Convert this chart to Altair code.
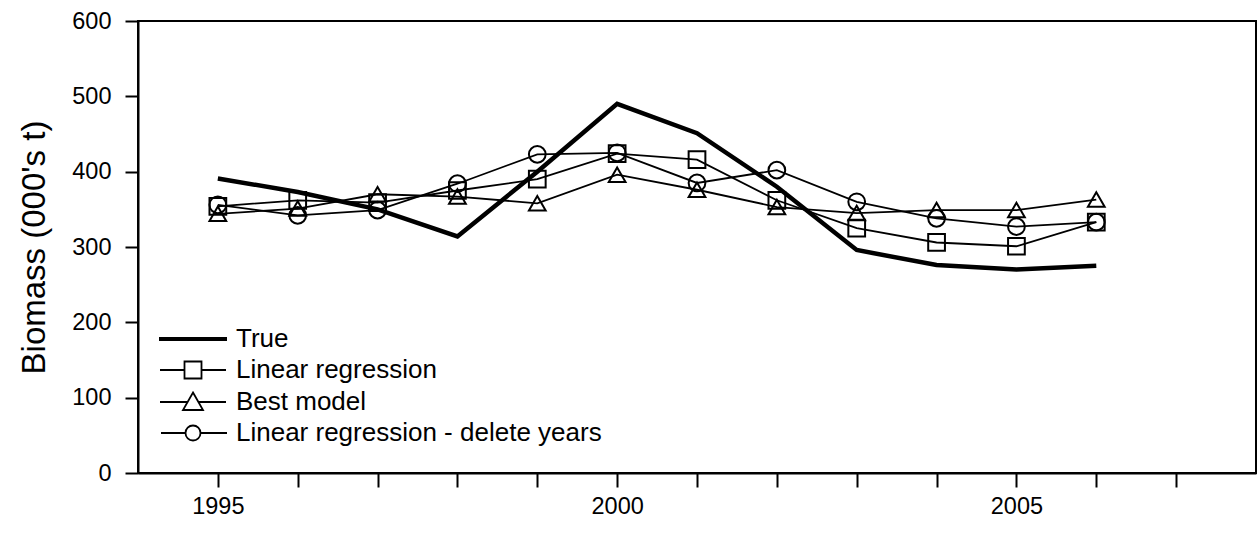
import altair as alt
import pandas as pd

years = [1995, 1996, 1997, 1998, 1999, 2000, 2001, 2002, 2003, 2004, 2005, 2006]
true_vals = [391, 373, 350, 314, 400, 490, 451, 380, 296, 276, 270, 275]
lin_reg = [354, 362, 359, 375, 390, 424, 416, 362, 325, 306, 301, 333]
best_model = [344, 351, 370, 367, 358, 396, 376, 353, 345, 349, 349, 363]
lin_reg_del = [356, 342, 349, 384, 423, 425, 385, 402, 360, 338, 327, 333]

series_names = ["True", "Linear regression", "Best model", "Linear regression - delete years"]
model_names = series_names[1:]
model_shapes = ["square", "triangle-up", "circle"]
legend_paths = [
    "M-3.4,-0.1H3.4M-3.4,0H3.4M-3.4,0.1H3.4",
    "M-3.3,0H-0.85M0.85,0H3.3M-0.85,-0.85H0.85V0.85H-0.85Z",
    "M-3.3,0H-0.55M0.55,0H3.3M0,-0.95L1,0.8H-1Z",
    "M-3.2,0H-0.75M0.75,0H3.4M-0.75,0A0.75,0.75 0 1,0 0.75,0A0.75,0.75 0 1,0 -0.75,0Z",
]

rows = []
for name, vals in zip(series_names, [true_vals, lin_reg, best_model, lin_reg_del]):
    for yr, v in zip(years, vals):
        rows.append({"year": yr, "biomass": v, "series": name})
df = pd.DataFrame(rows)

FONT = "Liberation Sans"

x_enc = alt.X(
    "year:Q",
    scale=alt.Scale(domain=[1994, 2008], nice=False, zero=False),
    axis=alt.Axis(
        title=None,
        values=list(range(1995, 2008)),
        labelExpr="datum.value % 5 == 0 ? format(datum.value, 'd') : ''",
        grid=False,
        tickSize=14,
        tickWidth=2,
        domainWidth=2,
        labelFontSize=23.5,
        labelPadding=7,
        labelOverlap=False,
    ),
)
y_enc = alt.Y(
    "biomass:Q",
    scale=alt.Scale(domain=[0, 600], nice=False),
    axis=alt.Axis(
        title="Biomass (000's t)",
        values=[0, 100, 200, 300, 400, 500, 600],
        grid=False,
        tickSize=13,
        tickWidth=2,
        domainWidth=2,
        labelFontSize=23.5,
        labelPadding=14,
        titleFontSize=33,
        titleFontWeight="normal",
        titlePadding=20,
    ),
)

base = alt.Chart(df)

model_lines = base.transform_filter(
    alt.FieldOneOfPredicate(field="series", oneOf=model_names)
).mark_line(color="black", strokeWidth=1.8).encode(
    x=x_enc, y=y_enc, detail="series:N"
)

true_line = base.transform_filter(
    alt.FieldEqualPredicate(field="series", equal="True")
).mark_line(color="black", strokeWidth=4.5).encode(x=x_enc, y=y_enc)

markers = base.transform_filter(
    alt.FieldOneOfPredicate(field="series", oneOf=model_names)
).mark_point(color="black", filled=False, strokeWidth=2, size=280, opacity=1).encode(
    x=x_enc,
    y=y_enc,
    shape=alt.Shape("series:N", scale=alt.Scale(domain=model_names, range=model_shapes), legend=None),
)

legend_layer = base.mark_point(color="black", filled=False, strokeWidth=1.8, opacity=0).encode(
    x=x_enc,
    y=y_enc,
    shape=alt.Shape(
        "series:N",
        scale=alt.Scale(domain=series_names, range=legend_paths),
        sort=series_names,
        legend=alt.Legend(
            title=None,
            orient="none",
            legendX=42,
            legendY=305,
            padding=0,
            symbolSize=400,
            symbolStrokeWidth=1.8,
            symbolStrokeColor="black",
            symbolOpacity=1,
            labelFontSize=26,
            labelFont=FONT,
            labelColor="black",
            labelOffset=30,
            labelLimit=800,
            rowPadding=5,
        ),
    ),
)

chart = alt.layer(model_lines, true_line, markers, legend_layer).resolve_scale(
    shape="independent"
).properties(
    width=1118,
    height=452,
    padding={"left": 138, "top": 21, "right": 1, "bottom": 63},
    autosize=alt.AutoSizeParams(type="none"),
).configure_view(
    stroke="black", strokeWidth=2
).configure_axis(
    labelFont=FONT, titleFont=FONT, labelColor="black", titleColor="black",
    tickColor="black", domainColor="black",
)

chart.save("out.html", embed_options={"renderer": "svg", "actions": False})
